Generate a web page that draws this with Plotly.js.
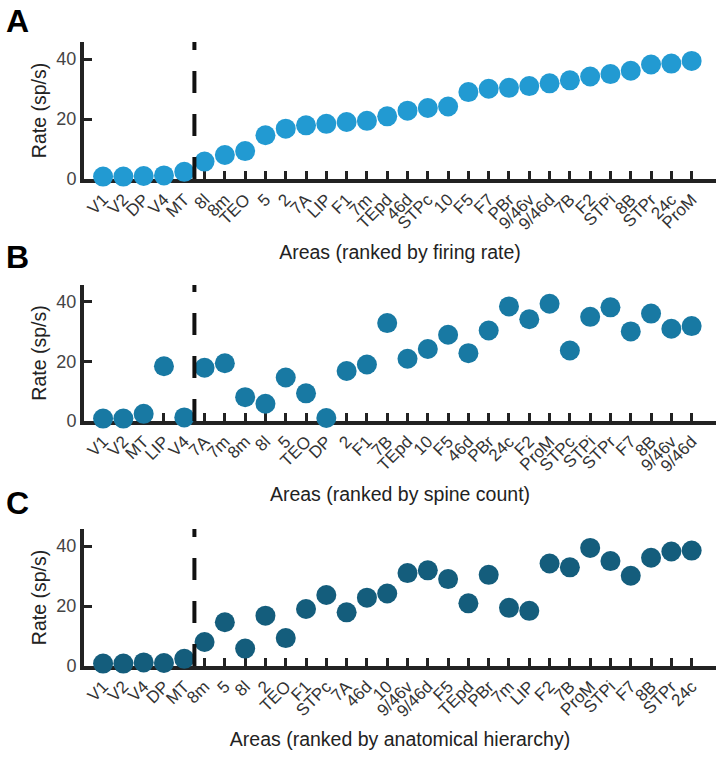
<!DOCTYPE html>
<html>
<head>
<meta charset="utf-8">
<script src="https://cdn.plot.ly/plotly-3.0.1.min.js"></script>
<style>
  html, body { margin: 0; padding: 0; background: #fff; }
  #graph { width: 720px; height: 757px; }
</style>
</head>
<body>
<div id="graph"></div>
<script>
// areas ranked by firing rate (panel A) and their rates (sp/s)
const areasByRate = ['V1', 'V2', 'DP', 'V4', 'MT', '8l', '8m', 'TEO', '5', '2', '7A', 'LIP', 'F1',
  '7m', 'TEpd', '46d', 'STPc', '10', 'F5', 'F7', 'PBr', '9/46v', '9/46d', '7B', 'F2', 'STPi',
  '8B', 'STPr', '24c', 'ProM'];
const rates = [0.8, 0.8, 1.0, 1.2, 2.4, 5.8, 8.0, 9.3, 14.6, 16.8, 17.9, 18.4, 19.0,
  19.4, 20.9, 22.8, 23.7, 24.2, 29.0, 30.1, 30.4, 31.0, 31.9, 32.9, 34.2, 35.0,
  36.1, 38.2, 38.5, 39.4];

// other orderings (panels B and C)
const areasBySpine = ['V1', 'V2', 'MT', 'LIP', 'V4', '7A', '7m', '8m', '8l', '5', 'TEO', 'DP', '2',
  'F1', '7B', 'TEpd', '10', 'F5', '46d', 'PBr', '24c', 'F2', 'ProM', 'STPc', 'STPi', 'STPr',
  'F7', '8B', '9/46v', '9/46d'];
const areasByHierarchy = ['V1', 'V2', 'V4', 'DP', 'MT', '8m', '5', '8l', '2', 'TEO', 'F1', 'STPc',
  '7A', '46d', '10', '9/46v', '9/46d', 'F5', 'TEpd', 'PBr', '7m', 'LIP', 'F2', '7B', 'ProM',
  'STPi', 'F7', '8B', 'STPr', '24c'];

const panelTitles = ['Areas (ranked by firing rate)', 'Areas (ranked by spine count)',
  'Areas (ranked by anatomical hierarchy)'];
const panelLetters = ['A', 'B', 'C'];
const panelColors = ['#229ad2', '#1879a3', '#145d7c'];

const FONT = 'Liberation Sans, Arial, sans-serif';
const W = 720, H = 757;
const yTop = 45.7;

function rateOf(area) {
  return rates[areasByRate.indexOf(area)];
}

// pixel boxes for each panel: [top, bottom], and where the panel letter sits
const boxes = [[42, 179], [285, 421], [529, 666]];
const letterY = [21, 257, 503];
const xLeft = 84, xRight = 716;

function makeAxes(i) {
  const n = i === 0 ? '' : String(i + 1);
  const [top, bottom] = boxes[i];
  const xa = {
    type: 'category',
    domain: [xLeft / W, xRight / W],
    range: [-0.94, 30.2],
    anchor: 'y' + n,
    showline: true, linewidth: 4, linecolor: '#222',
    ticks: 'inside', ticklen: 8, tickwidth: 3, tickcolor: '#222',
    tickangle: -45,
    tickfont: { family: FONT, size: 17, color: '#333' },
    showgrid: false, zeroline: false,
    layer: 'below traces',
    title: { text: panelTitles[i], font: { family: FONT, size: 19.5, color: '#222' }, standoff: 14 }
  };
  const ya = {
    domain: [1 - bottom / H, 1 - top / H],
    range: [0, yTop],
    anchor: 'x' + n,
    tickvals: [0, 20, 40],
    showline: true, linewidth: 4, linecolor: '#222',
    ticks: 'inside', ticklen: 8, tickwidth: 3, tickcolor: '#222',
    tickfont: { family: FONT, size: 18, color: '#444' },
    showgrid: false, zeroline: false,
    layer: 'below traces',
    title: { text: 'Rate (sp/s)', font: { family: FONT, size: 19.5, color: '#222' }, standoff: 6 }
  };
  return [xa, ya];
}

function draw() {
  const orders = [areasByRate, areasBySpine, areasByHierarchy];
  const data = [];
  const layout = {
    width: W, height: H,
    margin: { l: 0, r: 0, t: 0, b: 0 },
    paper_bgcolor: '#fff', plot_bgcolor: '#fff',
    showlegend: false,
    shapes: [],
    annotations: []
  };

  orders.forEach((order, i) => {
    const n = i === 0 ? '' : String(i + 1);
    data.push({
      x: order,
      y: order.map(rateOf),
      xaxis: 'x' + n,
      yaxis: 'y' + n,
      type: 'scatter',
      mode: 'markers',
      cliponaxis: false,
      marker: { size: 20, color: panelColors[i], line: { width: 0 } },
      hoverinfo: 'x+y'
    });

    const [xa, ya] = makeAxes(i);
    layout['xaxis' + n] = xa;
    layout['yaxis' + n] = ya;

    // dashed divider between early visual areas and the rest
    layout.shapes.push({
      type: 'line',
      xref: 'x' + n, yref: 'y' + n,
      x0: 4.5, x1: 4.5, y0: 0, y1: yTop,
      line: { color: '#111', width: 4, dash: '22px,21px' }
    });

    layout.annotations.push({
      text: '<b>' + panelLetters[i] + '</b>',
      xref: 'paper', yref: 'paper',
      x: 4 / W, y: 1 - letterY[i] / H,
      xanchor: 'left', yanchor: 'middle',
      showarrow: false,
      font: { family: FONT, size: 32, color: '#000' }
    });
  });

  Plotly.newPlot('graph', data, layout, { staticPlot: true });
}

draw();
</script>
</body>
</html>
